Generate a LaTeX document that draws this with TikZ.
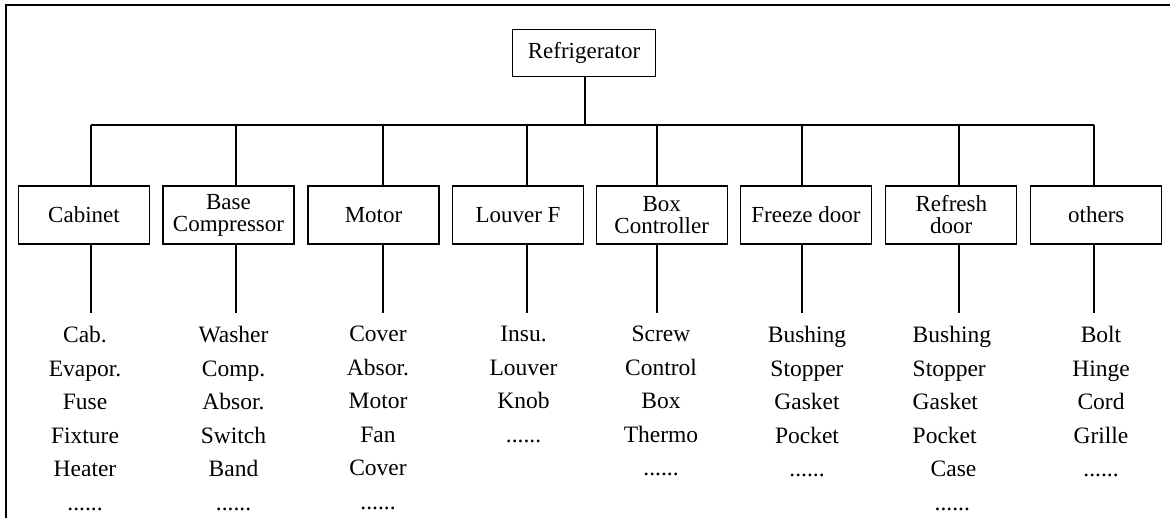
\documentclass[tikz,border=0pt]{standalone}
\usepackage{fontspec}
\setmainfont{Liberation Serif}
\usetikzlibrary{positioning}

\tikzset{
    part/.style={draw, line width=1.1pt, minimum width=131pt, minimum height=58pt,
        inner sep=0pt, align=center, font=\fontsize{23}{22}\selectfont},
    items/.style={anchor=north, inner sep=0pt, align=center,
        font=\fontsize{23.5}{33.5}\selectfont},
    link/.style={line width=1.1pt}
}

\begin{document}
\begin{tikzpicture}[x=1pt, y=-1pt]
        \useasboundingbox (0,0) rectangle (1170,518);
        \draw[line width=1.8pt] (6,518) -- (6,5) -- (1170,5);

        \node[part, minimum width=143pt, minimum height=47pt] (fridge) at (584,52.7) {Refrigerator};

        \node[part] (cab) at (84,215) {Cabinet};
        \node[part] (base) at (228.5,215) {Base\\Compressor};
        \node[part] (motor) at (373.5,215) {Motor};
        \node[part] (louver) at (518,215) {Louver F};
        \node[part] (boxc) at (661.7,215) {Box\\Controller};
        \node[part] (freeze) at (806,215) {Freeze door};
        \node[part] (refresh) at (951.3,215) {Refresh\\door};
        \node[part] (others) at (1096.3,215) {others};

        \coordinate (bus) at (585,125);
        \coordinate (s1) at (91,125);
        \coordinate (s2) at (236,125);
        \coordinate (s3) at (383,125);
        \coordinate (s4) at (527,125);
        \coordinate (s5) at (657,125);
        \coordinate (s6) at (802,125);
        \coordinate (s7) at (959,125);
        \coordinate (s8) at (1094,125);

        \draw[link] (fridge.south -| bus) -- (bus);
        \draw[link] (s1) -- (s8);
        \foreach \s/\p in {s1/cab, s2/base, s3/motor, s4/louver, s5/boxc, s6/freeze, s7/refresh, s8/others}{
            \draw[link] (\s) -- (\s |- \p.north);
            \draw[link] (\s |- \p.south) -- ++(0,68);
        }

        \node[items] (cablist) at (85,326) {Cab.\\Evapor.\\Fuse\\Fixture\\Heater\\......};
        \node[items] (baselist) at (233.5,326) {Washer\\Comp.\\Absor.\\Switch\\Band\\......};
        \node[items] (motorlist) at (378,326) {Cover\\Absor.\\Motor\\Fan\\Cover\\......};
        \node[items] (louverlist) at (523.5,326) {Insu.\\Louver\\Knob\\......};
        \node[items] (boxclist) at (661,326) {Screw\\Control\\Box\\Thermo\\......};
        \node[items] (freezelist) at (807,326) {Bushing\\Stopper\\Gasket\\Pocket\\......};
        \node[items, anchor=north west, align=left] (refreshlist) at (912.5,326)
            {Bushing\\Stopper\\Gasket\\Pocket\\\hspace*{18pt}Case\\\hspace*{22pt}......};
        \node[items] (otherslist) at (1101,326) {Bolt\\Hinge\\Cord\\Grille\\......};
    \end{tikzpicture}
\end{document}
